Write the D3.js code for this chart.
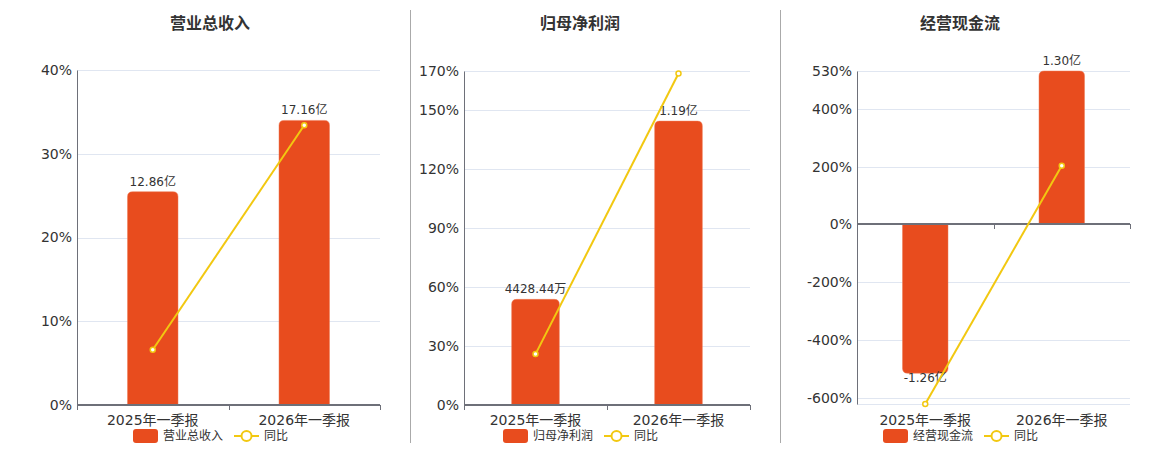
<!DOCTYPE html>
<html>
<head>
<meta charset="utf-8">
<script src="https://cdn.jsdelivr.net/npm/d3@7/dist/d3.min.js"></script>
<style>
  body { margin: 0; background: #fff; }
  text { font-family: "DejaVu Sans", "Noto Sans CJK SC", sans-serif; }
</style>
</head>
<body>
<div id="viz"></div>
<script type="text/javascript">

// chart data
var panelTitles = ["营业总收入", "归母净利润", "经营现金流"];
var categories = ["2025年一季报", "2026年一季报"];
var barValues = [[12.86, 17.16], [0.442844, 1.19], [-1.26, 1.30]];
var barLabels = [["12.86亿", "17.16亿"], ["4428.44万", "1.19亿"], ["-1.26亿", "1.30亿"]];
var yoyValues = [[6.6, 33.4], [25.9, 168.7], [-620, 203]];
var pctTicks = [[0, 10, 20, 30, 40], [0, 30, 60, 90, 120, 150, 170], [-600, -400, -200, 0, 200, 400, 530]];
var pctDomains = [[0, 40], [0, 170], [-620, 530]];
var barDomains = [[0, 20.2], [0, 1.4], [-1.521, 1.30]];
var lineName = "同比";

// layout of the three panels
var layout = [
    {x0: 77, x1: 380, top: 70, bottom: 405, cx: 210, legendX: 133},
    {x0: 464, x1: 750, top: 71, bottom: 405, cx: 580, legendX: 503},
    {x0: 857, x1: 1130, top: 71, bottom: 404, cx: 960, legendX: 883}
];
var barColor = "#e84c1e";
var lineColor = "#f2c811";
var axisColor = "#6e7079";
var gridColor = "#e0e6f1";
var textColor = "#333";

var svg = d3.select("#viz")
    .append("svg")
    .attr("width", 1160)
    .attr("height", 450);

// panel separators
[410, 780].forEach(function(x){
    svg.append("line")
        .attr("x1", x + 0.5).attr("x2", x + 0.5)
        .attr("y1", 10).attr("y2", 443)
        .style("stroke", "#aaa")
        .style("stroke-width", 1);
});

// bar path with rounded far end
function barPath(x, w, y0, y1, r){
    var h = Math.abs(y1 - y0);
    r = Math.min(r, h / 2, w / 2);
    if (y1 <= y0){ // up
        return "M" + x + "," + y0 +
            "V" + (y1 + r) +
            "Q" + x + "," + y1 + " " + (x + r) + "," + y1 +
            "H" + (x + w - r) +
            "Q" + (x + w) + "," + y1 + " " + (x + w) + "," + (y1 + r) +
            "V" + y0 + "Z";
    }
    return "M" + x + "," + y0 +
        "V" + (y1 - r) +
        "Q" + x + "," + y1 + " " + (x + r) + "," + y1 +
        "H" + (x + w - r) +
        "Q" + (x + w) + "," + y1 + " " + (x + w) + "," + (y1 - r) +
        "V" + y0 + "Z";
}

function drawPanel(i){
    var L = layout[i];
    var g = svg.append("g");

    var x = d3.scaleBand().domain(categories).range([L.x0, L.x1]).padding(0);
    var yPct = d3.scaleLinear().domain(pctDomains[i]).range([L.bottom, L.top]);
    var yBar = d3.scaleLinear().domain(barDomains[i]).range([L.bottom, L.top]);

    // title
    g.append("text")
        .attr("x", L.cx).attr("y", 29)
        .attr("text-anchor", "middle")
        .style("font-size", "16px")
        .style("font-weight", "bold")
        .style("fill", textColor)
        .text(panelTitles[i]);

    // gridlines
    var gridVals = pctTicks[i].filter(function(t){ return t !== 0; });
    if (pctDomains[i][0] < 0) gridVals.push(pctDomains[i][0]);
    g.selectAll(".grid").data(gridVals).enter().append("line")
        .attr("x1", L.x0).attr("x2", L.x1)
        .attr("y1", function(d){ return Math.round(yPct(d)) + 0.5; })
        .attr("y2", function(d){ return Math.round(yPct(d)) + 0.5; })
        .style("stroke", gridColor)
        .style("stroke-width", 1);

    // left axis
    var yAxis = d3.axisLeft(yPct)
        .tickValues(pctTicks[i])
        .tickSize(0)
        .tickPadding(5)
        .tickFormat(function(d){ return d + "%"; });
    var ya = g.append("g")
        .attr("transform", "translate(" + L.x0 + ",0)")
        .call(yAxis);
    ya.select(".domain").style("stroke", axisColor).style("stroke-width", 1);
    ya.selectAll("text")
        .style("font-size", "14px")
        .style("fill", textColor)
        .style("font-family", "'DejaVu Sans', sans-serif");

    // bars
    var bw = x.bandwidth() / 3;
    g.selectAll(".bar").data(barValues[i]).enter().append("path")
        .attr("d", function(d, j){
            var bx = x(categories[j]) + (x.bandwidth() - bw) / 2;
            return barPath(bx, bw, yBar(0), yBar(d), 5);
        })
        .style("fill", barColor)
        .style("stroke", "#ef7a55")
        .style("stroke-width", 0.5);

    // bar labels
    g.selectAll(".blabel").data(barValues[i]).enter().append("text")
        .attr("x", function(d, j){ return x(categories[j]) + x.bandwidth() / 2; })
        .attr("y", function(d){ return d >= 0 ? yBar(d) - 6 : yBar(d) + 9; })
        .attr("text-anchor", "middle")
        .style("font-size", "12px")
        .style("fill", textColor)
        .text(function(d, j){ return barLabels[i][j]; });

    // x axis at zero
    var zeroY = Math.round(yPct(0));
    g.append("line")
        .attr("x1", L.x0).attr("x2", L.x1)
        .attr("y1", zeroY).attr("y2", zeroY)
        .style("stroke", axisColor)
        .style("stroke-width", 2);
    var bounds = categories.map(function(c){ return x(c); }).concat([L.x1]);
    g.selectAll(".xtick").data(bounds).enter().append("line")
        .attr("x1", function(d){ return Math.round(d) + 0.5; })
        .attr("x2", function(d){ return Math.round(d) + 0.5; })
        .attr("y1", zeroY).attr("y2", zeroY + 5)
        .style("stroke", axisColor)
        .style("stroke-width", 1);

    // category labels
    g.selectAll(".xlabel").data(categories).enter().append("text")
        .attr("x", function(d){ return x(d) + x.bandwidth() / 2; })
        .attr("y", 425)
        .attr("text-anchor", "middle")
        .style("font-size", "14px")
        .style("fill", textColor)
        .text(function(d){ return d; });

    // yoy line
    var line = d3.line()
        .x(function(d, j){ return x(categories[j]) + x.bandwidth() / 2; })
        .y(function(d){ return yPct(d); });
    g.append("path")
        .datum(yoyValues[i])
        .attr("d", line)
        .style("fill", "none")
        .style("stroke", lineColor)
        .style("stroke-width", 2);
    g.selectAll(".pt").data(yoyValues[i]).enter().append("circle")
        .attr("cx", function(d, j){ return x(categories[j]) + x.bandwidth() / 2; })
        .attr("cy", function(d){ return yPct(d); })
        .attr("r", 2.5)
        .style("fill", "#fff")
        .style("stroke", lineColor)
        .style("stroke-width", 1.5);

    // legend
    var lx = L.legendX;
    g.append("rect")
        .attr("x", lx).attr("y", 429)
        .attr("width", 25).attr("height", 14)
        .attr("rx", 3)
        .style("fill", barColor);
    var t1 = g.append("text")
        .attr("x", lx + 30).attr("y", 440)
        .style("font-size", "12px")
        .style("fill", textColor)
        .text(panelTitles[i]);
    var lx2 = lx + 30 + t1.node().getComputedTextLength() + 11;
    g.append("line")
        .attr("x1", lx2).attr("x2", lx2 + 25)
        .attr("y1", 436).attr("y2", 436)
        .style("stroke", lineColor)
        .style("stroke-width", 2);
    g.append("circle")
        .attr("cx", lx2 + 12.5).attr("cy", 436)
        .attr("r", 5)
        .style("fill", "#fff")
        .style("stroke", lineColor)
        .style("stroke-width", 2);
    g.append("text")
        .attr("x", lx2 + 30).attr("y", 440)
        .style("font-size", "12px")
        .style("fill", textColor)
        .text(lineName);
}

for (var i = 0; i < 3; i++){
    drawPanel(i);
}

</script>
</body>
</html>
